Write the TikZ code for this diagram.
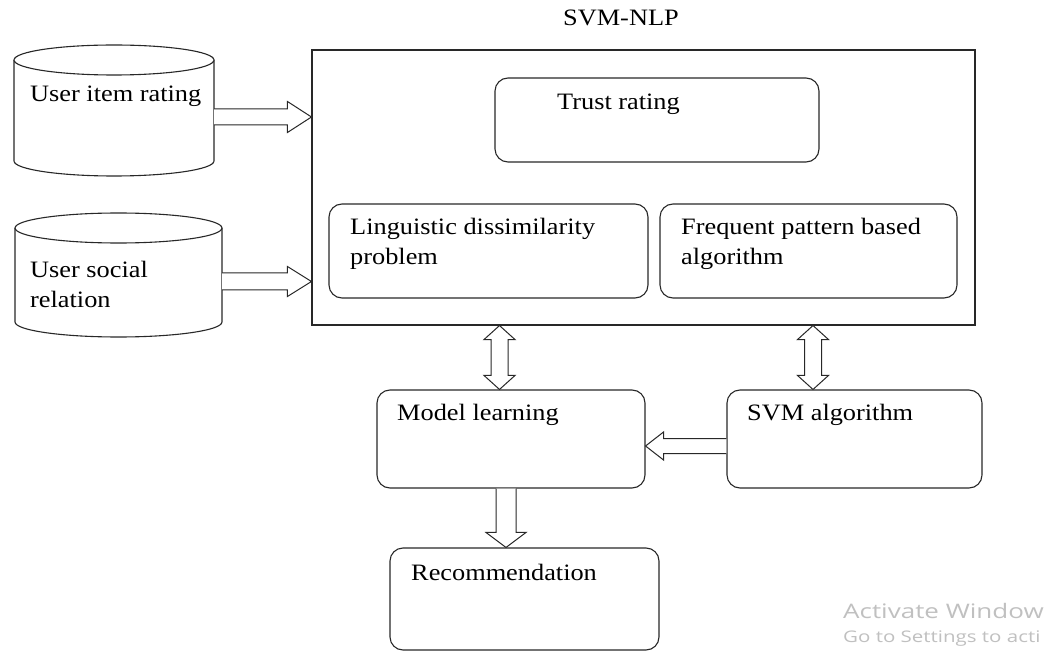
\documentclass[tikz,border=0pt]{standalone}
\usepackage{fontspec}
\setmainfont{Liberation Serif}[FakeStretch=1.12]
\newfontfamily\wmfont{Open Sans}[FakeStretch=1.3]
\newfontfamily\wmfontb{Open Sans}[FakeStretch=1.28]
\usetikzlibrary{calc}
\definecolor{wmgray}{RGB}{192,192,192}
\definecolor{linec}{RGB}{40,40,40}
\tikzset{
  box/.style={draw=linec, line width=1.1pt, rounded corners=13pt, inner sep=0pt},
  frame/.style={draw=linec, line width=1.1pt, inner sep=0pt},
  anchorbox/.style={inner sep=0pt},
  txt/.style={anchor=base west, inner sep=0pt, font=\fontsize{23.5}{28}\selectfont},
  barrow/.style={draw=linec, line width=1pt, fill=white, line join=miter},
  db/.style={draw=linec, line width=1.1pt, fill=white},
  wmone/.style={anchor=base west, inner sep=0pt, text=wmgray, font=\wmfont\fontsize{20}{24}\selectfont},
  wmtwo/.style={anchor=base west, inner sep=0pt, text=wmgray, font=\wmfontb\fontsize{16}{19}\selectfont},
}
\newcommand\rarrow[5]{\draw[barrow] let \p1=(#1), \p2=(#2) in
  (\x1,\y1+#3) -- (\x2-#5,\y1+#3) -- (\x2-#5,\y1+#4) -- (\x2,\y1) -- (\x2-#5,\y1-#4) -- (\x2-#5,\y1-#3) -- (\x1,\y1-#3);}
\newcommand\larrow[5]{\draw[barrow] let \p1=(#1), \p2=(#2) in
  (\x1,\y1+#3) -- (\x2+#5,\y1+#3) -- (\x2+#5,\y1+#4) -- (\x2,\y1) -- (\x2+#5,\y1-#4) -- (\x2+#5,\y1-#3) -- (\x1,\y1-#3);}
\newcommand\darrow[5]{\draw[barrow] let \p1=(#1), \p2=(#2) in
  (\x1-#3,\y1) -- (\x1-#3,\y2+#5) -- (\x1-#4,\y2+#5) -- (\x1,\y2) -- (\x1+#4,\y2+#5) -- (\x1+#3,\y2+#5) -- (\x1+#3,\y1);}
\newcommand\udarrow[5]{\draw[barrow] let \p1=(#1), \p2=(#2) in
  (\x1,\y1) -- (\x1+#4,\y1-#5) -- (\x1+#3,\y1-#5) -- (\x1+#3,\y2+#5) -- (\x1+#4,\y2+#5) -- (\x1,\y2)
  -- (\x1-#4,\y2+#5) -- (\x1-#3,\y2+#5) -- (\x1-#3,\y1-#5) -- (\x1-#4,\y1-#5) -- cycle;}
\begin{document}
\begin{tikzpicture}[x=1pt, y=-1pt]
\useasboundingbox (0,0) rectangle (1049,652);
\fill[white] (0,0) rectangle (1049,652);

% title
\node[txt] (title) at (563,26) {SVM-NLP};

% cylinders
\draw[db] (14,60) -- (14,161) arc[start angle=180, end angle=360, x radius=100pt, y radius=15pt] -- (214,60);
\draw[db] (114,60) ellipse[x radius=100pt, y radius=15pt];
\node[anchorbox, minimum width=200pt, minimum height=116pt] (db1) at (114,110.5) {};
\node[txt] (db1t) at (30,102) {User item rating};

\draw[db] (15,228) -- (15,322) arc[start angle=180, end angle=360, x radius=103.5pt, y radius=15pt] -- (222,228);
\draw[db] (118.5,228) ellipse[x radius=103.5pt, y radius=15pt];
\node[anchorbox, minimum width=207pt, minimum height=109pt] (db2) at (118.5,275) {};
\node[txt] (db2t) at (30,277) {User social};
\node[txt] (db2u) at (30,307) {relation};

% main frame and inner boxes
\node[frame, minimum width=663pt, minimum height=275pt] (main) at (643.5,187.5) {};
\node[box, minimum width=324pt, minimum height=84pt] (trust) at (657,120) {};
\node[txt] (trustt) at (557,110) {Trust rating};
\node[box, minimum width=319pt, minimum height=94pt] (ling) at (488.5,251) {};
\node[txt] (lingt) at (350,235) {Linguistic dissimilarity};
\node[txt] (lingu) at (350,265) {problem};
\node[box, minimum width=297pt, minimum height=94pt] (freq) at (808.5,251) {};
\node[txt] (freqt) at (681,235) {Frequent pattern based};
\node[txt] (frequ) at (681,265) {algorithm};

% lower boxes
\node[box, minimum width=268pt, minimum height=98pt] (model) at (511,439) {};
\node[txt] (modelt) at (397,420) {Model learning};
\node[box, minimum width=255pt, minimum height=98pt] (svm) at (854.5,439) {};
\node[txt] (svmt) at (747,420) {SVM algorithm};
\node[box, minimum width=269pt, minimum height=102pt] (rec) at (524.5,599) {};
\node[txt] (rect) at (411,580) {Recommendation};

% block arrows
\coordinate (a1) at (db1.east |- 0,117);
\rarrow{a1}{main.west |- a1}{8pt}{15.5pt}{24pt}
\coordinate (a2) at (db2.east |- 0,281.5);
\rarrow{a2}{main.west |- a2}{8.5pt}{15pt}{24pt}
\coordinate (u1) at (main.south -| 499.5,0);
\udarrow{u1}{model.north -| u1}{8.5pt}{15.5pt}{14pt}
\coordinate (u2) at (main.south -| 813,0);
\udarrow{u2}{svm.north -| u2}{8.5pt}{15.5pt}{14pt}
\coordinate (l1) at (svm.west |- 0,446);
\larrow{l1}{model.east |- l1}{7.5pt}{14pt}{18pt}
\coordinate (d1) at (model.south -| 506,0);
\darrow{d1}{rec.north -| d1}{10pt}{20pt}{15pt}

% watermark (as visible in the reference)
\node[wmone] (wma) at (843,618) {Activate Window};
\node[wmtwo] (wmb) at (843,642) {Go to Settings to acti};
\end{tikzpicture}
\end{document}
